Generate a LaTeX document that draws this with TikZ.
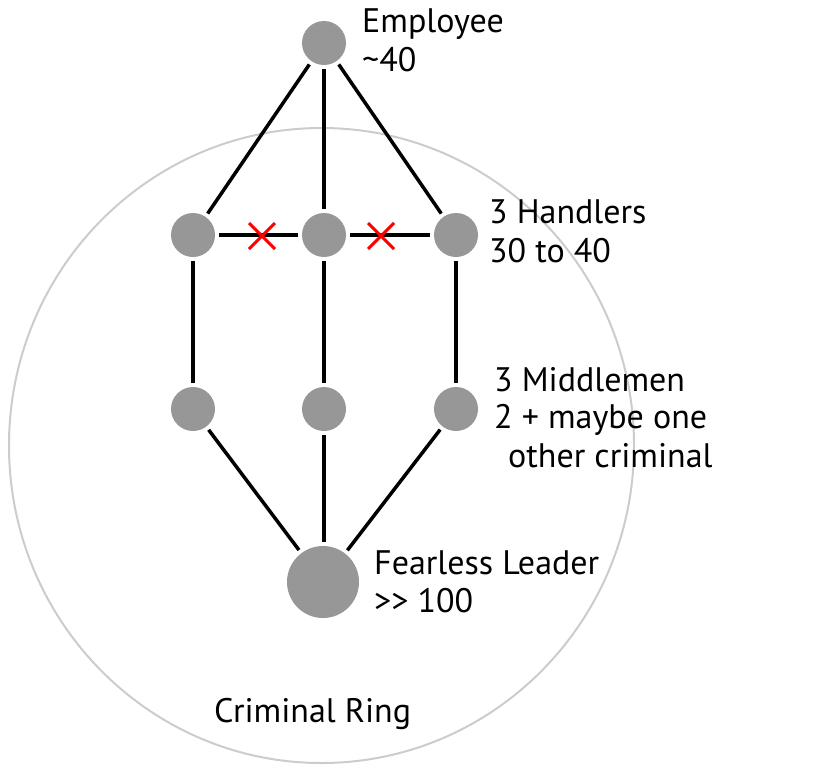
\documentclass[tikz,border=0pt]{standalone}
\usepackage{fontspec}
\setmainfont{PT Sans}
\usetikzlibrary{shapes.misc}
\definecolor{nodegray}{HTML}{979797}
\definecolor{ringgray}{HTML}{CCCCCC}
\begin{document}
\begin{tikzpicture}[x=1pt,y=-1pt,
  person/.style={circle,fill=nodegray,inner sep=0pt,minimum size=44pt,outer sep=4pt},
  leader/.style={circle,fill=nodegray,inner sep=0pt,minimum size=72pt,outer sep=4pt},
  link/.style={draw=black,line width=3.5pt},
  cut/.style={cross out,draw=red,line width=3pt,minimum size=23pt,inner sep=0pt},
  lbl/.style={anchor=base west,inner sep=0pt,font=\fontsize{34}{34}\selectfont}]
\useasboundingbox (0,0) rectangle (818,774);
\draw[ringgray,line width=2pt] (321.5,445.5) ellipse [x radius=312.5,y radius=317.5];
\node[person] (emp) at (324,43) {};
\node[person] (h1) at (193,235) {};
\node[person] (h2) at (324,235) {};
\node[person] (h3) at (456,235) {};
\node[person] (m1) at (193,409) {};
\node[person] (m2) at (324,409) {};
\node[person] (m3) at (456,409) {};
\node[leader] (lead) at (323,582) {};
\draw[link] (emp) -- (h1);
\draw[link] (emp) -- (h2);
\draw[link] (emp) -- (h3);
\draw[link] (h1) -- (h2);
\draw[link] (h2) -- (h3);
\draw[link] (h1) -- (m1);
\draw[link] (h2) -- (m2);
\draw[link] (h3) -- (m3);
\draw[link] (m1) -- (lead);
\draw[link] (m2.south) -- (m2.south |- lead.north);
\draw[link] (m3) -- (lead);
\node[cut] (x1) at (262,236) {};
\node[cut] (x2) at (381,236) {};
\node[lbl] (t1) at (362,32) {Employee};
\node[lbl] (t2) at (362,71) {\textasciitilde40};
\node[lbl] (t3) at (489,223) {3 Handlers};
\node[lbl] (t4) at (489,262) {30 to 40};
\node[lbl] (t5) at (494,391) {3 Middlemen};
\node[lbl] (t6) at (494,428) {2 + maybe one};
\node[lbl] (t7) at (508,467) {other criminal};
\node[lbl] (t8) at (374,574) {Fearless Leader};
\node[lbl] (t9) at (374,612) {>{}> 100};
\node[lbl] (t10) at (214,722) {Criminal Ring};
\end{tikzpicture}
\end{document}
